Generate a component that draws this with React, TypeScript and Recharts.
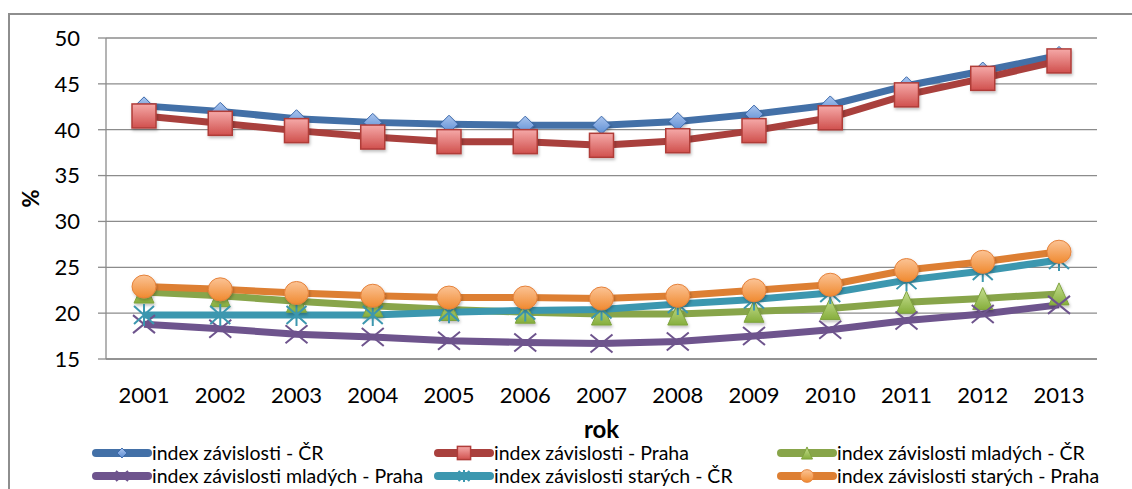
import React from 'react'
import { LineChart, Line, XAxis, YAxis, CartesianGrid, Legend, Label } from 'recharts'

const years = ['2001', '2002', '2003', '2004', '2005', '2006', '2007', '2008', '2009', '2010', '2011', '2012', '2013']
const indexCR = [42.6, 42.0, 41.2, 40.8, 40.6, 40.5, 40.5, 40.9, 41.7, 42.7, 44.8, 46.4, 48.1]
const indexPraha = [41.5, 40.7, 39.9, 39.2, 38.7, 38.7, 38.3, 38.8, 39.9, 41.3, 43.8, 45.6, 47.5]
const mladychCR = [22.3, 21.9, 21.3, 20.8, 20.4, 20.1, 19.9, 19.9, 20.2, 20.5, 21.2, 21.6, 22.1]
const mladychPraha = [18.8, 18.3, 17.7, 17.4, 17.0, 16.8, 16.7, 16.9, 17.5, 18.2, 19.2, 19.9, 20.9]
const starychCR = [19.8, 19.8, 19.8, 19.8, 20.1, 20.3, 20.4, 21.0, 21.5, 22.2, 23.6, 24.6, 25.8]
const starychPraha = [22.9, 22.6, 22.2, 21.9, 21.7, 21.7, 21.6, 21.9, 22.5, 23.1, 24.7, 25.6, 26.7]
const yTicks = [15, 20, 25, 30, 35, 40, 45, 50]

const seriesNames = [
  'index závislosti - ČR',
  'index závislosti - Praha',
  'index závislosti mladých - ČR',
  'index závislosti mladých - Praha',
  'index závislosti starých - ČR',
  'index závislosti starých - Praha',
]

const data = years.map((rok, i) => ({
  rok,
  s0: indexCR[i],
  s1: indexPraha[i],
  s2: mladychCR[i],
  s3: mladychPraha[i],
  s4: starychCR[i],
  s5: starychPraha[i],
}))

const font = 'Lato, "Open Sans", sans-serif'
const lineColors = ['#4370A7', '#A9403D', '#88A54A', '#6E548D', '#3C97AF', '#DD7F33']

// marker shapes, s = scale
function Marker({ kind, cx, cy, s = 1 }: { kind: number; cx: number; cy: number; s?: number }) {
  if (cx == null || cy == null) return null
  const f = s === 1 ? 'url(#sh)' : undefined
  switch (kind) {
    case 0: {
      const w = 9 * s, h = 9 * s
      return <path d={`M${cx},${cy - h}L${cx + w},${cy}L${cx},${cy + h}L${cx - w},${cy}Z`} fill="url(#gBlue)" stroke="#3A68AA" strokeWidth={1} filter={f} />
    }
    case 1: {
      const h = 12 * s
      return <rect x={cx - h} y={cy - h} width={2 * h} height={2 * h} fill="url(#gRed)" stroke="#B03C39" strokeWidth={1.5} filter={f} />
    }
    case 2: {
      const w = 10 * s, h = 11 * s
      return <path d={`M${cx},${cy - h}L${cx + w},${cy + h}L${cx - w},${cy + h}Z`} fill="url(#gGreen)" stroke="#7FA33E" strokeWidth={1} filter={f} />
    }
    case 3: {
      const w = 11 * s, h = 9 * s
      return <path d={`M${cx - w},${cy - h}L${cx + w},${cy + h}M${cx - w},${cy + h}L${cx + w},${cy - h}`} stroke="#6E548D" strokeWidth={2} fill="none" />
    }
    case 4: {
      const w = 10 * s, h = 9 * s
      return <path d={`M${cx - w},${cy - h}L${cx + w},${cy + h}M${cx - w},${cy + h}L${cx + w},${cy - h}M${cx},${cy - h - 2 * s}L${cx},${cy + h + 2 * s}`} stroke="#3C97AF" strokeWidth={2} fill="none" />
    }
    default: {
      return <ellipse cx={cx} cy={cy} rx={12 * s} ry={11.5 * s} fill="url(#gOrange)" stroke="#E5813A" strokeWidth={1} filter={f} />
    }
  }
}

const legendCols = [92, 434, 777]

function LegendBox() {
  return (
    <div style={{ position: 'relative', width: 1132, height: 47, fontFamily: font, fontSize: 19.5, lineHeight: '22px', color: '#000' }}>
      {seriesNames.map((name, i) => {
        const left = legendCols[i % 3]
        const top = i < 3 ? 0 : 23
        return (
          <div key={name} style={{ position: 'absolute', left, top, height: 22, display: 'flex', alignItems: 'center', whiteSpace: 'nowrap' }}>
            <svg width={60} height={20} style={{ display: 'block' }}>
              <line x1={4} y1={10} x2={56} y2={10} stroke={lineColors[i]} strokeWidth={8} strokeLinecap="round" />
              <Marker kind={i} cx={30} cy={10} s={0.55} />
            </svg>
            <span>{name}</span>
          </div>
        )
      })}
    </div>
  )
}

export default function App() {
  return (
    <div style={{ position: 'absolute', left: 0, top: 0, width: 1132, height: 489, background: '#fff', overflow: 'hidden' }}>
      <div style={{ position: 'absolute', left: 8, top: 13, width: 1200, height: 600, borderLeft: '2px solid #8E8E8E', borderTop: '2px solid #8E8E8E' }} />
      <LineChart width={1132} height={489} data={data} margin={{ top: 38, right: 35, bottom: 0, left: 0 }} style={{ position: 'absolute', left: 0, top: 0 }}>
        <defs>
          <linearGradient id="gBlue" x1="0" y1="0" x2="0" y2="1">
            <stop offset="0%" stopColor="#A9C4EE" />
            <stop offset="100%" stopColor="#5E8ED3" />
          </linearGradient>
          <linearGradient id="gRed" x1="0" y1="0" x2="0" y2="1">
            <stop offset="0%" stopColor="#F5A9A8" />
            <stop offset="100%" stopColor="#D0504D" />
          </linearGradient>
          <linearGradient id="gGreen" x1="0" y1="0" x2="0" y2="1">
            <stop offset="0%" stopColor="#C5DE90" />
            <stop offset="100%" stopColor="#86AE3C" />
          </linearGradient>
          <linearGradient id="gOrange" x1="0" y1="0" x2="0" y2="1">
            <stop offset="0%" stopColor="#FBC395" />
            <stop offset="100%" stopColor="#F08A30" />
          </linearGradient>
          <filter id="sh" x="-50%" y="-50%" width="200%" height="200%">
            <feDropShadow dx="1" dy="2" stdDeviation="1.5" floodColor="#000" floodOpacity="0.25" />
          </filter>
        </defs>
        <CartesianGrid vertical={false} stroke="#8C8C8C" strokeWidth={1.3} />
        <XAxis
          dataKey="rok"
          height={83}
          padding={{ left: 38, right: 38 }}
          tickSize={0}
          tickMargin={28}
          axisLine={{ stroke: '#8C8C8C', strokeWidth: 1.3 }}
          tick={{ fill: '#000', fontSize: 22, fontFamily: font }}
          interval={0}
        >
          <Label value="rok" position="insideBottom" offset={4} style={{ fill: '#000', fontSize: 24, fontWeight: 700, fontFamily: font }} />
        </XAxis>
        <YAxis
          width={106}
          domain={[15, 50]}
          ticks={yTicks}
          interval={0}
          tickSize={8}
          tickMargin={18}
          axisLine={{ stroke: '#8C8C8C', strokeWidth: 1.3 }}
          tickLine={{ stroke: '#8C8C8C', strokeWidth: 1.3 }}
          tick={{ fill: '#000', fontSize: 22, fontFamily: font }}
        >
          <Label
            content={(p: any) => {
              const vb = p.viewBox
              const x = vb.x + 30
              const y = vb.y + vb.height / 2
              return (
                <text x={x} y={y} transform={`rotate(-90 ${x} ${y})`} textAnchor="middle" dominantBaseline="central" style={{ fill: '#000', fontSize: 22, fontWeight: 700, fontFamily: font }}>
                  %
                </text>
              )
            }}
          />
        </YAxis>
        <Legend verticalAlign="bottom" content={() => <LegendBox />} wrapperStyle={{ left: 0, bottom: 0, width: 1132, height: 47 }} />
        {seriesNames.map((name, i) => (
          <Line
            key={name}
            name={name}
            dataKey={`s${i}`}
            type="linear"
            stroke={lineColors[i]}
            strokeWidth={7}
            isAnimationActive={false}
            dot={(p: any) => <Marker key={`${i}-${p.index}`} kind={i} cx={p.cx} cy={p.cy} />}
            activeDot={false}
          />
        ))}
      </LineChart>
    </div>
  )
}
